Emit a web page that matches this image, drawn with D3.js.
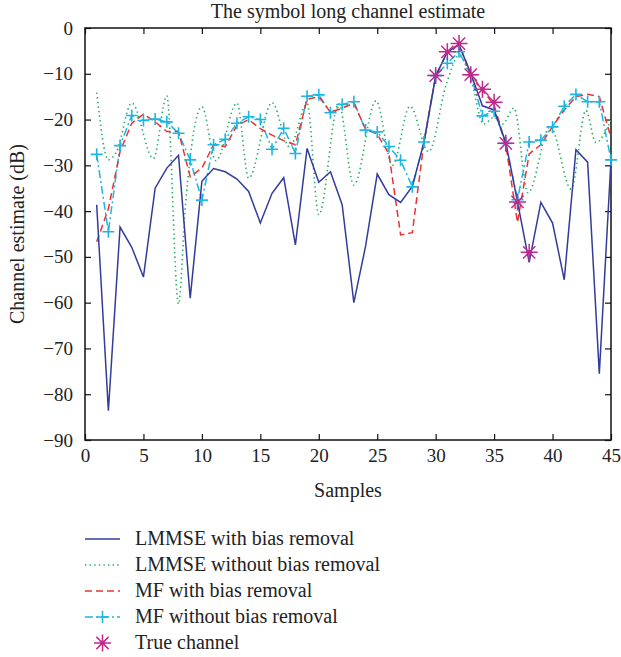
<!DOCTYPE html>
<html>
<head>
<meta charset="utf-8">
<script src="https://d3js.org/d3.v7.min.js"></script>
<style>
  body { margin: 0; background: #fff; }
  text { font-family: "Liberation Serif", "DejaVu Serif", serif; fill: #222; }
</style>
</head>
<body>
<script>
// ---- data ----
var samples = [1,2,3,4,5,6,7,8,9,10,11,12,13,14,15,16,17,18,19,20,21,22,23,24,25,
               26,27,28,29,30,31,32,33,34,35,36,37,38,39,40,41,42,43,44,45]

var lmmseBias = [-38.6,-83.6,-43.5,-47.9,-54.4,-35.0,-30.6,-27.8,-59.0,-33.5,
                 -30.7,-31.4,-33.0,-35.7,-42.6,-36.1,-32.7,-47.4,-26.3,-33.7,
                 -31.4,-38.6,-60.0,-47.7,-31.9,-36.4,-38.1,-34.6,-25.0,-10.5,
                 -5.2,-3.7,-9.9,-17.0,-17.9,-25.0,-38.0,-51.2,-38.1,-42.6,
                 -55.0,-26.6,-29.3,-75.5,-28.8]

// dotted curve is drawn finer than the sample grid: its turning points
var lmmseNoBiasX = [1,2,2.7,4,5.85,7,8,8.6,10,11.2,13,14,16,17.5,19,20,21.7,23,24.9,
                    26.3,27.8,29.4,30.9,32,33,34.1,35,35.7,36.7,37.9,39.8,41.6,42.85,43.7,45]
var lmmseNoBiasY = [-14.1,-28.8,-27.0,-16.4,-28.5,-14.8,-60.3,-38.6,-17.2,-29.0,-16.4,-32.8,
                    -16.3,-26.0,-16.5,-40.8,-16.5,-34.3,-15.9,-30.0,-17.1,-27.0,-12.4,-6.0,
                    -11.0,-21.0,-19.5,-21.0,-17.5,-36.0,-21.5,-35.2,-18.0,-25.0,-20.0]

var mfBias = [-46.7,-39.5,-27.0,-20.8,-18.8,-20.5,-22.6,-22.6,-32.5,-30.6,
              -25.5,-25.9,-21.3,-20.0,-22.0,-23.4,-24.6,-25.5,-15.6,-15.0,
              -18.4,-17.5,-16.4,-22.1,-23.2,-27.5,-45.2,-44.7,-25.0,-10.5,
              -5.2,-3.5,-10.0,-13.6,-16.8,-25.5,-42.5,-27.5,-25.5,-21.5,
              -17.9,-15.0,-14.5,-15.0,-24.0]

var mfNoBias = [-27.6,-44.5,-25.7,-19.1,-20.2,-19.9,-20.5,-23.0,-28.8,-37.6,
                -25.5,-24.3,-20.8,-19.4,-20.0,-26.5,-21.9,-27.4,-14.9,-14.6,
                -18.5,-16.7,-16.1,-22.3,-22.7,-25.9,-28.9,-34.7,-24.9,-10.4,
                -7.7,-5.2,-10.2,-19.2,-18.2,-25.2,-37.5,-24.9,-24.5,-21.6,
                -17.1,-14.5,-16.1,-16.1,-28.8]

var trueX = [30,31,32,33,34,35,36,37,38]
var trueY = [-10.4,-5.2,-3.4,-10.2,-13.4,-16.2,-25.2,-38.0,-49.0]

var xTicks = [0,5,10,15,20,25,30,35,40,45]
var yTicks = [0,-10,-20,-30,-40,-50,-60,-70,-80,-90]
var legendNames = ['LMMSE with bias removal','LMMSE without bias removal',
                   'MF with bias removal','MF without bias removal','True channel']

// ---- chart ----
var W = 621, H = 657
var pL = 85, pR = 611, pT = 28, pB = 440

var colBlue = '#323c9b', colGreen = '#21ad62', colRed = '#ec3232',
    colCyan = '#1cb6e3', colMag = '#c02a8f'

var svg = d3.select('body').append('svg').attr('width', W).attr('height', H)

var x = d3.scaleLinear().domain([0,45]).range([pL,pR])
var y = d3.scaleLinear().domain([-90,0]).range([pB,pT])

svg.append('defs').append('clipPath').attr('id','clip')
  .append('rect').attr('x',pL).attr('y',pT)
  .attr('width',pR-pL).attr('height',pB-pT)

// axes, ticks inward on all four sides
var tl = 6
svg.append('g').attr('transform','translate(0,'+pB+')')
  .call(d3.axisBottom(x).tickValues(xTicks).tickSizeInner(-tl).tickSizeOuter(0).tickPadding(9))
svg.append('g').attr('transform','translate(0,'+pT+')')
  .call(d3.axisTop(x).tickValues(xTicks).tickSizeInner(-tl).tickSizeOuter(0).tickFormat(''))
svg.append('g').attr('transform','translate('+pL+',0)')
  .call(d3.axisLeft(y).tickValues(yTicks).tickSizeInner(-tl).tickSizeOuter(0).tickPadding(12)
    .tickFormat(function(d){ return d < 0 ? '\u2212' + (-d) : d }))
svg.append('g').attr('transform','translate('+pR+',0)')
  .call(d3.axisRight(y).tickValues(yTicks).tickSizeInner(-tl).tickSizeOuter(0).tickFormat(''))

svg.selectAll('.domain').remove()
svg.selectAll('.tick line').attr('stroke','#111').attr('stroke-width',1.2)
svg.selectAll('.tick text').style('font-size','19px')
  .style('font-family','"Liberation Serif", serif').attr('fill','#222')

svg.append('rect').attr('x',pL).attr('y',pT)
  .attr('width',pR-pL).attr('height',pB-pT)
  .attr('fill','none').attr('stroke','#111').attr('stroke-width',1.5)

// titles
svg.append('text').attr('x',(pL+pR)/2).attr('y',18).attr('text-anchor','middle')
  .style('font-size','20px').text('The symbol long channel estimate')
svg.append('text').attr('x',(pL+pR)/2).attr('y',497).attr('text-anchor','middle')
  .style('font-size','20px').text('Samples')
svg.append('text').attr('transform','translate(24,'+((pT+pB)/2)+') rotate(-90)')
  .attr('text-anchor','middle').style('font-size','20px').text('Channel estimate (dB)')

// series
var plot = svg.append('g').attr('clip-path','url(#clip)')

var line = d3.line().x(function(d){return x(d[0])}).y(function(d){return y(d[1])})
var smooth = d3.line().x(function(d){return x(d[0])}).y(function(d){return y(d[1])})
  .curve(d3.curveMonotoneX)

function zip(xs, ys) { return xs.map(function(v,i){ return [v, ys[i]] }) }

plot.append('path').datum(zip(lmmseNoBiasX, lmmseNoBiasY)).attr('d', smooth)
  .attr('fill','none').attr('stroke',colGreen).attr('stroke-width',1.6)
  .attr('stroke-dasharray','1.4,3.2')

plot.append('path').datum(zip(samples, mfNoBias)).attr('d', line)
  .attr('fill','none').attr('stroke',colCyan).attr('stroke-width',1.5)
  .attr('stroke-dasharray','8,3,2,3')

plot.append('path').datum(zip(samples, mfBias)).attr('d', line)
  .attr('fill','none').attr('stroke',colRed).attr('stroke-width',1.5)
  .attr('stroke-dasharray','7,4')

plot.append('path').datum(zip(samples, lmmseBias)).attr('d', line)
  .attr('fill','none').attr('stroke',colBlue).attr('stroke-width',1.5)

function plusPath(r) { return 'M'+(-r)+',0H'+r+'M0,'+(-r)+'V'+r }
function starPath(r) {
  var q = r * 0.72
  return plusPath(r) + 'M'+(-q)+','+(-q)+'L'+q+','+q+'M'+(-q)+','+q+'L'+q+','+(-q)
}

svg.append('g').selectAll('path').data(zip(samples, mfNoBias)).enter().append('path')
  .attr('transform', function(d){ return 'translate('+x(d[0])+','+y(d[1])+')' })
  .attr('d', plusPath(6)).attr('stroke',colCyan).attr('stroke-width',1.6).attr('fill','none')

var stars = svg.append('g').selectAll('g').data(zip(trueX, trueY)).enter().append('g')
  .attr('transform', function(d){ return 'translate('+x(d[0])+','+y(d[1])+')' })
stars.append('path').attr('d', starPath(8.5)).attr('stroke',colMag).attr('stroke-width',1.5)
  .attr('fill','none')
stars.append('circle').attr('r',2.4).attr('fill',colMag)

// legend
var lg = svg.append('g')
var rowY = [539,565,591,617,643]
var styles = [
  {c:colBlue, dash:null},
  {c:colGreen, dash:'1.4,3.2'},
  {c:colRed, dash:'7,4'},
  {c:colCyan, dash:'8,3,2,3'},
  {c:colMag, dash:'none'}
]
legendNames.forEach(function(name, i){
  var yy = rowY[i]
  if (i < 4) {
    lg.append('line').attr('x1',85).attr('x2',120).attr('y1',yy).attr('y2',yy)
      .attr('stroke',styles[i].c).attr('stroke-width',1.5)
      .attr('stroke-dasharray', styles[i].dash)
  }
  if (i === 3) {
    lg.append('path').attr('transform','translate(102.5,'+yy+')').attr('d',plusPath(6))
      .attr('stroke',colCyan).attr('stroke-width',1.6)
  }
  if (i === 4) {
    var s = lg.append('g').attr('transform','translate(102.5,'+yy+')')
    s.append('path').attr('d',starPath(8.5)).attr('stroke',colMag).attr('stroke-width',1.5)
    s.append('circle').attr('r',2.4).attr('fill',colMag)
  }
  lg.append('text').attr('x',135).attr('y',yy+6).style('font-size','20px').text(name)
})
</script>
</body>
</html>
